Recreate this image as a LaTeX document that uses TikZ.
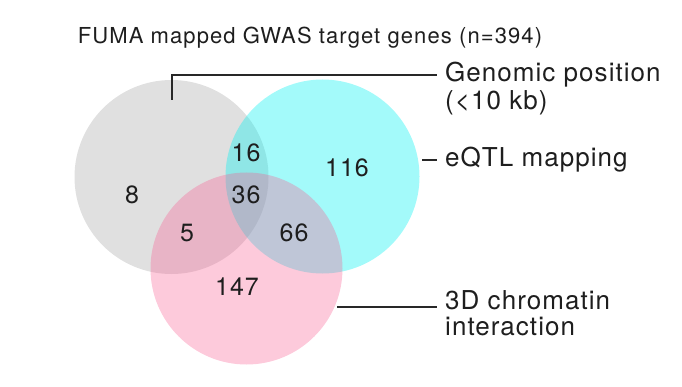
\documentclass[tikz,border=0pt]{standalone}
\usepackage{fontspec}
\setmainfont{TeX Gyre Heros}
\newfontfamily\reffont[LetterSpace=4]{TeX Gyre Heros}
\newfontfamily\titlefont[LetterSpace=5]{TeX Gyre Heros}
\definecolor{grayset}{RGB}{0,0,0}
\definecolor{cyanset}{RGB}{0,240,240}
\definecolor{pinkset}{RGB}{249,89,142}
\definecolor{leader}{RGB}{40,40,40}
\definecolor{ink}{RGB}{30,30,30}
\tikzset{
  setcircle/.style={circle, inner sep=0pt, minimum size=#1},
  count/.style={font=\reffont\fontsize{25}{29}\selectfont, text=ink, inner sep=0pt},
  lab/.style={font=\reffont\fontsize{26}{30}\selectfont, text=ink, inner sep=0pt, anchor=west},
  leadline/.style={draw=leader, line width=1.1pt}
}
\begin{document}
\begin{tikzpicture}[x=1pt,y=-1pt]
\useasboundingbox (0,0) rectangle (682,387);
% circles
\node[setcircle=194pt, fill=grayset, fill opacity=0.12] (gp) at (171.5,177) {};
\node[setcircle=194pt, fill=cyanset, fill opacity=0.36] (eq) at (322.5,176.5) {};
\node[setcircle=192pt, fill=pinkset, fill opacity=0.32] (ch) at (246.5,268.5) {};
% title
\node[font=\titlefont\fontsize{22}{26}\selectfont, text=ink, inner sep=0pt] (title) at (310,38) {FUMA mapped GWAS target genes (n=394)};
% counts
\node[count] (n8) at (132,195) {8};
\node[count] (n16) at (246,153) {16};
\node[count] (n36) at (246,195) {36};
\node[count] (n116) at (347,168) {116};
\node[count] (n5) at (187,233) {5};
\node[count] (n66) at (294,233) {66};
\node[count] (n147) at (237,287) {147};
% labels
\node[lab] (lgp) at (445,75) {Genomic position};
\node[lab] (lgp2) at (445,103) {(<10 kb)};
\node[lab] (leq) at (445,160) {eQTL mapping};
\node[lab] (lch) at (445,300) {3D chromatin};
\node[lab] (lch2) at (445,327) {interaction};
% leader lines
\coordinate (gpin) at (172,100);
\coordinate (eqin) at (422,160);
\coordinate (chin) at (337,307);
\draw[leadline] (gpin) |- ([xshift=-8pt]lgp.west);
\draw[leadline] (eqin) -- ([xshift=-8pt]leq.west);
\draw[leadline] (chin) -- ([xshift=-8pt]lch.west |- chin);
\end{tikzpicture}
\end{document}
